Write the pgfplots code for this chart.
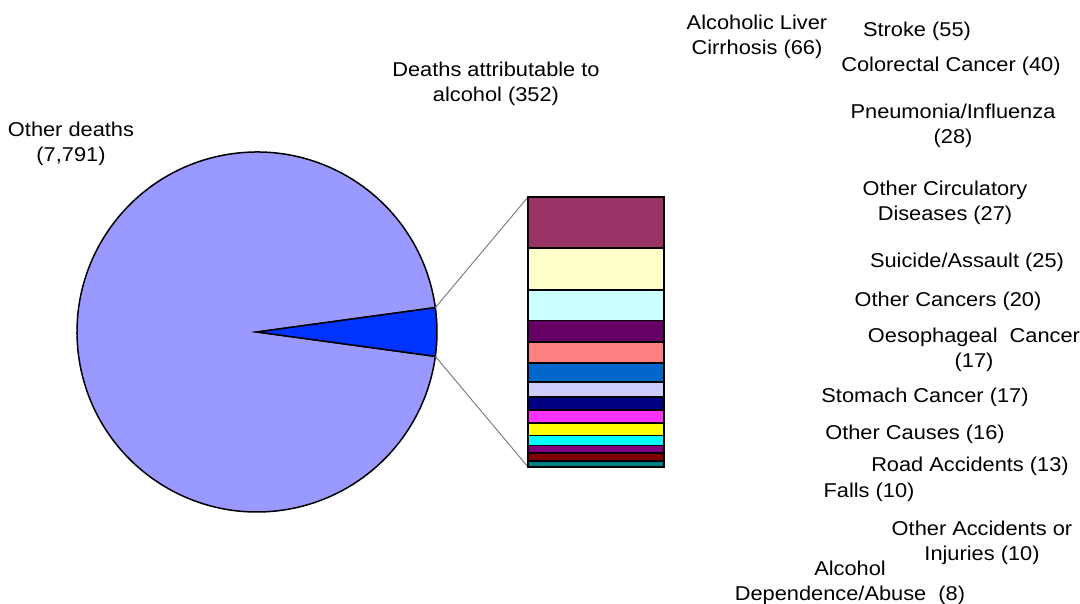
\documentclass[border=0pt]{standalone}
\usepackage{pgfplots}
\pgfplotsset{compat=1.18}
\usepackage{fontspec}
\setmainfont[FakeStretch=1.09]{Liberation Sans}
\definecolor{othc}{HTML}{9999FF}
\definecolor{alcc}{HTML}{0033FF}
\definecolor{c1}{HTML}{993366}
\definecolor{c2}{HTML}{FFFFCC}
\definecolor{c3}{HTML}{CCFFFF}
\definecolor{c4}{HTML}{660066}
\definecolor{c5}{HTML}{FF8080}
\definecolor{c6}{HTML}{0066CC}
\definecolor{c7}{HTML}{CCCCFF}
\definecolor{c8}{HTML}{000080}
\definecolor{c9}{HTML}{FF33FF}
\definecolor{c10}{HTML}{FFFF00}
\definecolor{c11}{HTML}{00FFFF}
\definecolor{c12}{HTML}{800080}
\definecolor{c13}{HTML}{800000}
\definecolor{c14}{HTML}{008080}
\begin{document}
\begin{tikzpicture}[font=\fontsize{20}{25.5}\selectfont]
\pgfmathsetmacro{\other}{7791}
\pgfmathsetmacro{\alc}{352}
\pgfmathsetmacro{\half}{\alc/(\alc+\other)*180}
\begin{axis}[at={(0pt,0pt)}, anchor=south west,
  width=1080pt, height=604pt, scale only axis,
  xmin=0, xmax=1080, ymin=0, ymax=604, hide axis, clip=false]
% pie
\draw[fill=othc, draw=black, line width=1.5pt] (axis cs:257,272) -- ++(\half:180pt)
  arc[start angle=\half, end angle=360-\half, radius=180pt] -- cycle;
\draw[fill=alcc, draw=black, line width=1.5pt] (axis cs:257,272) -- ++(-\half:180pt)
  arc[start angle=-\half, end angle=\half, radius=180pt] -- cycle;
% connectors
\draw[gray, line width=1pt] (axis cs:257,272) ++(\half:180pt) -- (axis cs:528,407);
\draw[gray, line width=1pt] (axis cs:257,272) ++(-\half:180pt) -- (axis cs:528,137);
% labels
\node[align=center] at (axis cs:71,460) {Other deaths\\(7,791)};
\node[align=center] at (axis cs:496,520) {Deaths attributable to\\alcohol (352)};
\node[align=center] at (axis cs:757,567) {Alcoholic Liver\\Cirrhosis (66)};
\node[align=center] at (axis cs:917,573) {Stroke (55)};
\node[align=center] at (axis cs:951,538) {Colorectal Cancer (40)};
\node[align=center] at (axis cs:953,478) {Pneumonia/Influenza\\(28)};
\node[align=center] at (axis cs:945,401) {Other Circulatory\\Diseases (27)};
\node[align=center] at (axis cs:967,342) {Suicide/Assault (25)};
\node[align=center] at (axis cs:948,303) {Other Cancers (20)};
\node[align=center] at (axis cs:974,254) {Oesophageal\ \ Cancer\\(17)};
\node[align=center] at (axis cs:925,207) {Stomach Cancer (17)};
\node[align=center] at (axis cs:915,170) {Other Causes (16)};
\node[align=center] at (axis cs:970,138) {Road Accidents (13)};
\node[align=center] at (axis cs:869,112) {Falls (10)};
\node[align=center] at (axis cs:982,61) {Other Accidents or\\Injuries (10)};
\node[align=center] at (axis cs:850,21) {Alcohol\\Dependence/Abuse\ \ (8)};
\end{axis}
\begin{axis}[at={(528pt,137pt)}, anchor=south west,
  width=136pt, height=270pt, scale only axis,
  xmin=0, xmax=1, ymin=0, ymax=352, hide axis, clip=false,
  ybar stacked, bar width=1,
  every axis plot/.append style={draw=black, line width=1.8pt}]
\addplot[fill=c14] coordinates {(0.5,8)};
\addplot[fill=c13] coordinates {(0.5,10)};
\addplot[fill=c12] coordinates {(0.5,10)};
\addplot[fill=c11] coordinates {(0.5,13)};
\addplot[fill=c10] coordinates {(0.5,16)};
\addplot[fill=c9] coordinates {(0.5,17)};
\addplot[fill=c8] coordinates {(0.5,17)};
\addplot[fill=c7] coordinates {(0.5,20)};
\addplot[fill=c6] coordinates {(0.5,25)};
\addplot[fill=c5] coordinates {(0.5,27)};
\addplot[fill=c4] coordinates {(0.5,28)};
\addplot[fill=c3] coordinates {(0.5,40)};
\addplot[fill=c2] coordinates {(0.5,55)};
\addplot[fill=c1] coordinates {(0.5,66)};
\end{axis}
\pgfresetboundingbox
\path (0pt,0pt) rectangle (1080pt,604pt);
\end{tikzpicture}
\end{document}
